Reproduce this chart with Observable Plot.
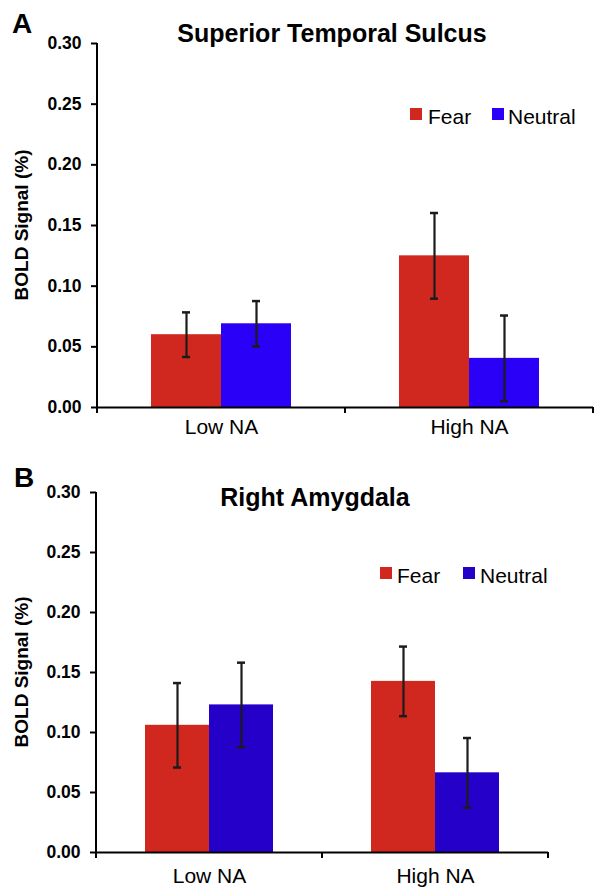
<!DOCTYPE html>
<html>
<head>
<meta charset="utf-8">
<script src="https://cdn.jsdelivr.net/npm/d3@7"></script>
<script src="https://cdn.jsdelivr.net/npm/@observablehq/plot@0.6"></script>
<style>
  body { margin: 0; background: #fff; }
  #wrap { position: relative; width: 595px; height: 887px; overflow: hidden; }
  #wrap > svg { position: absolute; left: 0; }
</style>
</head>
<body>
<div id="wrap"></div>
<script>
// ---- data ----
const groups = ["Low NA", "High NA"];
const conditions = ["Fear", "Neutral"];
const yTicks = [0, 0.05, 0.10, 0.15, 0.20, 0.25, 0.30];
const yLabel = "BOLD Signal (%)";

// Panel A: Superior Temporal Sulcus
const stsTitle = "Superior Temporal Sulcus";
const stsFear = [0.060, 0.125];
const stsNeutral = [0.069, 0.0405];
const stsFearErr = [0.0184, 0.0353];
const stsNeutralErr = [0.0187, 0.0353];
const stsColors = ["#d0281e", "#2a00f6"];

// Panel B: Right Amygdala
const amyTitle = "Right Amygdala";
const amyFear = [0.106, 0.1426];
const amyNeutral = [0.123, 0.0664];
const amyFearErr = [0.0352, 0.029];
const amyNeutralErr = [0.0352, 0.029];
const amyColors = ["#d0281e", "#2500c8"];

const FONT = '"Liberation Sans", Arial, Helvetica, sans-serif';

function rowsOf(fear, neutral, fearErr, neutralErr) {
  const rows = [];
  groups.forEach((g, i) => {
    rows.push({group: g, cond: "Fear", value: fear[i], err: fearErr[i]});
    rows.push({group: g, cond: "Neutral", value: neutral[i], err: neutralErr[i]});
  });
  return rows;
}

function panel(cfg) {
  const rows = cfg.rows;
  const errStroke = "#1c1c1c";
  const plot = Plot.plot({
    width: 595,
    height: cfg.height,
    marginLeft: 96,
    marginRight: cfg.marginRight,
    marginTop: cfg.marginTop,
    marginBottom: cfg.marginBottom,
    style: {fontFamily: FONT, fontSize: "17px", color: "#000", background: "transparent", overflow: "visible"},
    fx: {domain: groups, padding: 0, label: null},
    x: {domain: conditions, paddingInner: 0, paddingOuter: cfg.pad, axis: null},
    y: {domain: [0, 0.3], label: null},
    color: {domain: conditions, range: cfg.colors},
    marks: [
      Plot.barY(rows, {fx: "group", x: "cond", y: "value", fill: "cond"}),
      Plot.ruleX(rows, {fx: "group", x: "cond", y1: d => d.value - d.err, y2: d => d.value + d.err, stroke: errStroke, strokeWidth: 2.2}),
      Plot.tickY(rows, {fx: "group", x: "cond", y: d => d.value + d.err, stroke: errStroke, strokeWidth: 2.5, insetLeft: cfg.capInset, insetRight: cfg.capInset}),
      Plot.tickY(rows, {fx: "group", x: "cond", y: d => d.value - d.err, stroke: errStroke, strokeWidth: 2.5, insetLeft: cfg.capInset, insetRight: cfg.capInset}),
      Plot.ruleY([0], {stroke: "#000", strokeWidth: 2}),
      Plot.axisY({ticks: yTicks, tickFormat: d3.format(".2f"), tickSize: 6, tickPadding: 10, strokeWidth: 2, fontWeight: "bold", fontSize: 17.5, label: null}),
      Plot.axisFx({anchor: "bottom", tickSize: 0, tickPadding: cfg.labelPad, fontSize: 21, label: null})
    ]
  });

  // axis line and category-boundary ticks, from the plot's own scales
  const fx = plot.scale("fx");
  const y = plot.scale("y");
  const bw = fx.bandwidth != null ? fx.bandwidth : (fx.range[1] - fx.range[0]) / groups.length;
  const y0 = y.apply(0);
  const yTop = y.apply(yTicks[yTicks.length - 1]);
  const svg = d3.select(plot);
  const edges = [fx.apply(groups[0]), ...groups.map(g => fx.apply(g) + bw)];
  svg.append("line")
    .attr("x1", edges[0]).attr("x2", edges[0])
    .attr("y1", yTop).attr("y2", y0)
    .attr("stroke", "#000").attr("stroke-width", 2);
  edges.forEach(ex => {
    svg.append("line")
      .attr("x1", ex).attr("x2", ex)
      .attr("y1", y0).attr("y2", y0 + 6)
      .attr("stroke", "#000").attr("stroke-width", 2);
  });

  // y label
  svg.append("text")
    .attr("transform", `translate(28,${(y0 + yTop) / 2}) rotate(-90)`)
    .attr("text-anchor", "middle")
    .attr("font-family", FONT).attr("font-size", 19).attr("font-weight", "bold")
    .attr("fill", "#000")
    .text(yLabel);

  // panel letter
  svg.append("text")
    .attr("x", cfg.letterX).attr("y", cfg.letterY)
    .attr("text-anchor", "start")
    .attr("font-family", FONT).attr("font-size", 28).attr("font-weight", "bold")
    .attr("fill", "#000").text(cfg.letter);

  // title
  svg.append("text")
    .attr("x", cfg.titleX).attr("y", cfg.titleY)
    .attr("text-anchor", "middle")
    .attr("font-family", FONT).attr("font-size", 25).attr("font-weight", "bold")
    .attr("fill", "#000").text(cfg.title);

  // legend
  const lg = svg.append("g").attr("font-family", FONT).attr("font-size", 21).attr("text-anchor", "start");
  conditions.forEach((c, i) => {
    const L = cfg.legend[i];
    lg.append("rect").attr("x", L.sx).attr("y", cfg.legendY - 16).attr("width", 12).attr("height", 12).attr("fill", cfg.colors[i]);
    lg.append("text").attr("x", L.tx).attr("y", cfg.legendY).attr("text-anchor", "start").attr("fill", "#000").text(c);
  });

  plot.style.top = cfg.top + "px";
  return plot;
}

const wrap = document.getElementById("wrap");

wrap.appendChild(panel({
  rows: rowsOf(stsFear, stsNeutral, stsFearErr, stsNeutralErr),
  colors: stsColors,
  top: 0, height: 445,
  marginTop: 43, marginBottom: 38, marginRight: 2,
  pad: 0.75, capInset: 31, labelPad: 12,
  letter: "A", letterX: 12, letterY: 33,
  title: stsTitle, titleX: 332, titleY: 42,
  legendY: 124,
  legend: [{sx: 410, tx: 428}, {sx: 492, tx: 508}]
}));

wrap.appendChild(panel({
  rows: rowsOf(amyFear, amyNeutral, amyFearErr, amyNeutralErr),
  colors: amyColors,
  top: 445, height: 442,
  marginTop: 47, marginBottom: 35, marginRight: 47,
  pad: 0.74, capInset: 28, labelPad: 16,
  letter: "B", letterX: 14, letterY: 42,
  title: amyTitle, titleX: 315, titleY: 61,
  legendY: 138,
  legend: [{sx: 380, tx: 397}, {sx: 463, tx: 480}]
}));
</script>
</body>
</html>
